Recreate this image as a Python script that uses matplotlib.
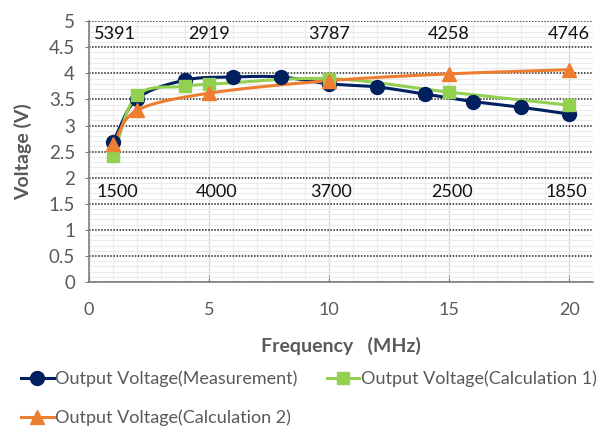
import numpy as np
import matplotlib
matplotlib.use("Agg")
import matplotlib.pyplot as plt
from matplotlib.ticker import MultipleLocator, FuncFormatter

plt.rcParams['font.family'] = ['Lato', 'DejaVu Sans']

# data
freq_meas = [1, 2, 4, 6, 8, 10, 12, 14, 16, 18, 20]
volt_meas = [2.69, 3.51, 3.87, 3.93, 3.93, 3.80, 3.74, 3.60, 3.46, 3.35, 3.22]

freq_calc1 = [1, 2, 4, 5, 10, 15, 20]
volt_calc1 = [2.42, 3.58, 3.75, 3.79, 3.90, 3.64, 3.39]

freq_calc2 = [1, 2, 5, 10, 15, 20]
volt_calc2 = [2.65, 3.29, 3.62, 3.86, 3.99, 4.07]

top_labels = ["5391", "2919", "3787", "4258", "4746"]
top_x = [1.1, 5, 10, 15, 20]
bottom_labels = ["1500", "4000", "3700", "2500", "1850"]
bottom_x = [1.2, 5.3, 10.1, 15.1, 19.9]

NAVY = '#002060'
GREEN = '#92D050'
ORANGE = '#ED7D31'
GRAY = '#595959'


def smooth(x, y, n=30):
    # Catmull-Rom style curve through the points, like Excel's smoothed line
    x = np.asarray(x, float)
    y = np.asarray(y, float)
    px = np.concatenate([[2 * x[0] - x[1]], x, [2 * x[-1] - x[-2]]])
    py = np.concatenate([[2 * y[0] - y[1]], y, [2 * y[-1] - y[-2]]])
    xs, ys = [], []
    t = np.linspace(0, 1, n)
    for i in range(1, len(px) - 2):
        for arr, out in ((px, xs), (py, ys)):
            p0, p1, p2, p3 = arr[i - 1], arr[i], arr[i + 1], arr[i + 2]
            m1 = (p2 - p0) / 6
            m2 = (p3 - p1) / 6
            c1, c2 = p1 + m1, p2 - m2
            out.append((1 - t) ** 3 * p1 + 3 * (1 - t) ** 2 * t * c1
                       + 3 * (1 - t) * t ** 2 * c2 + t ** 3 * p2)
    return np.concatenate(xs), np.concatenate(ys)


fig = plt.figure(figsize=(6.01, 4.32), dpi=100)
ax = fig.add_axes([0.148, 0.347, 0.839, 0.604])

ax.set_xlim(0, 21)
ax.set_ylim(0, 5)
ax.xaxis.set_major_locator(MultipleLocator(5))
ax.xaxis.set_minor_locator(MultipleLocator(1))
ax.yaxis.set_major_locator(MultipleLocator(0.5))
ax.yaxis.set_minor_locator(MultipleLocator(0.1))
ax.yaxis.set_major_formatter(FuncFormatter(lambda v, p: f'{v:g}'))

ax.grid(which='minor', axis='both', color='#ebebeb', lw=0.8)
ax.grid(which='major', axis='x', color='#d9d9d9', lw=1.0)
ax.grid(which='major', axis='y', color='#222222', lw=1.1, ls=(0, (1, 1)))
ax.set_axisbelow(True)

for sp in ['top', 'right']:
    ax.spines[sp].set_visible(False)
for sp in ['left', 'bottom']:
    ax.spines[sp].set_color('#7f7f7f')
    ax.spines[sp].set_linewidth(1.2)

ax.tick_params(axis='x', which='major', direction='in', length=5, color='#7f7f7f',
               pad=14, labelsize=13, labelcolor=GRAY)
ax.tick_params(axis='y', which='major', direction='out', length=3, color='#7f7f7f',
               pad=7, labelsize=13.5, labelcolor=GRAY)
ax.tick_params(which='minor', length=0)

series = [
    (freq_meas, volt_meas, NAVY, 'o', 10, 'Output Voltage(Measurement)'),
    (freq_calc1, volt_calc1, GREEN, 's', 8.5, 'Output Voltage(Calculation 1)'),
    (freq_calc2, volt_calc2, ORANGE, '^', 9.5, 'Output Voltage(Calculation 2)'),
]
handles = []
for fx, fy, col, mk, ms, lab in series:
    sx, sy = smooth(fx, fy)
    ax.plot(sx, sy, color=col, lw=2.2, zorder=3)
    ax.plot(fx, fy, ls='none', marker=mk, ms=ms, color=col, zorder=4)
    h, = ax.plot([], [], color=col, lw=2.2, marker=mk, ms=ms, label=lab)
    handles.append(h)

for lx, t in zip(top_x, top_labels):
    ax.text(lx, 4.76, t, ha='center', va='center', fontsize=13, color='#111111')
for lx, t in zip(bottom_x, bottom_labels):
    ax.text(lx, 1.73, t, ha='center', va='center', fontsize=13, color='#111111')

ax.set_xlabel('Frequency   (MHz)', fontsize=14, fontweight='bold', color=GRAY, labelpad=14)
ax.set_ylabel('Voltage (V)', fontsize=14, fontweight='bold', color=GRAY, labelpad=12)

# column-major fill: first column gets Measurement + Calc 2, second gets Calc 1
order = [handles[0], handles[2], handles[1]]
leg = fig.legend(handles=order, labels=[h.get_label() for h in order],
                 loc='upper left', bbox_to_anchor=(0.035, 0.142), ncol=2, frameon=False,
                 fontsize=13, handlelength=1.8, handletextpad=0.1, columnspacing=1.6,
                 labelspacing=1.25, borderaxespad=0, borderpad=0)
for t in leg.get_texts():
    t.set_color(GRAY)

fig.savefig('out.png', dpi=100)
